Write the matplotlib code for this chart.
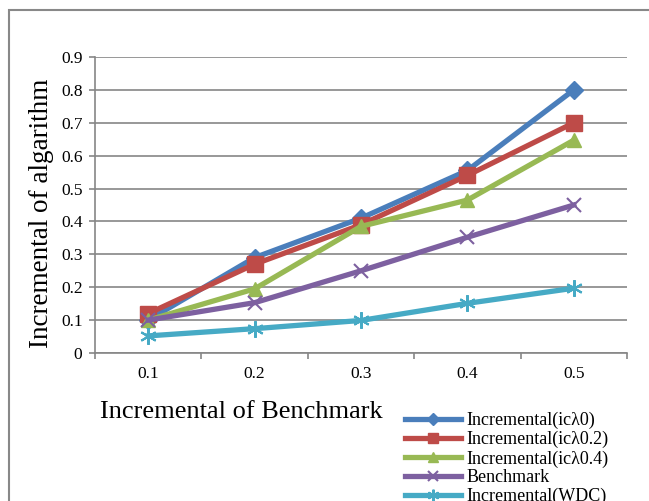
import numpy as np
import matplotlib.pyplot as plt
from matplotlib.patches import Rectangle

plt.rcParams['font.family'] = ['Liberation Serif', 'DejaVu Serif']

# data
categories = ['0.1', '0.2', '0.3', '0.4', '0.5']
ic0 = [0.10, 0.29, 0.41, 0.555, 0.80]
ic02 = [0.12, 0.27, 0.39, 0.54, 0.70]
ic04 = [0.10, 0.195, 0.385, 0.465, 0.647]
bench = [0.10, 0.153, 0.25, 0.352, 0.45]
wdc = [0.052, 0.074, 0.099, 0.151, 0.197]

names = ['Incremental(ic\u03bb0)', 'Incremental(ic\u03bb0.2)', 'Incremental(ic\u03bb0.4)',
         'Benchmark', 'Incremental(WDC)']
series = [ic0, ic02, ic04, bench, wdc]
colors = ['#4A7EBB', '#BE4B48', '#98B954', '#7D60A0', '#46AAC5']
markers = ['D', 's', '^', 'x', (6, 2, 0)]
msizes = [9, 11, 10, 10, 12]

W, H = 649, 501
fig = plt.figure(figsize=(W / 100, H / 100), dpi=100)
ax = fig.add_axes([95 / W, 1 - 353 / H, 532 / W, 296 / H])

x = np.arange(len(categories))
for i, (ys, c, m, ms, nm) in enumerate(zip(series, colors, markers, msizes, names)):
    if m == 'x' or isinstance(m, tuple):
        ax.plot(x, ys, color=c, lw=3.8, marker=m, ms=ms, mew=1.5, label=nm, zorder=3 + i)
    else:
        ax.plot(x, ys, color=c, lw=3.8, marker=m, ms=ms, mec=c, label=nm, zorder=3 + i)

ax.set_xlim(-0.5, len(categories) - 0.5)
ax.set_ylim(0, 0.9)
ax.set_yticks(np.arange(0, 0.91, 0.1))
ax.set_yticklabels(['0'] + ['%.1f' % v for v in np.arange(0.1, 0.91, 0.1)])
ax.yaxis.grid(True, color='#868686', lw=1.2)
ax.set_axisbelow(True)

ax.set_xticks(np.arange(-0.5, len(categories), 1.0))
ax.set_xticklabels([])
ax.set_xticks(x, minor=True)
ax.set_xticklabels(categories, minor=True)
ax.tick_params(axis='x', which='minor', length=0, pad=9, labelsize=12.5)
ax.tick_params(axis='x', which='major', length=4, color='#868686', width=1.2)
ax.tick_params(axis='y', length=4, color='#868686', width=1.2, labelsize=12.5, pad=5)

for s in ['top', 'right']:
    ax.spines[s].set_visible(False)
for s in ['left', 'bottom']:
    ax.spines[s].set_color('#868686')
    ax.spines[s].set_linewidth(1.2)

fig.text(42 / W, 1 - 213 / H, 'Incremental of algarithm', rotation=90,
         ha='center', va='center', fontsize=19.5)
fig.text(241 / W, 1 - 412 / H, 'Incremental of Benchmark',
         ha='center', va='center', fontsize=19)

fig.legend(loc='upper left', bbox_to_anchor=(405 / W, 1 - 412 / H), frameon=False,
           fontsize=13, handlelength=3.1, handletextpad=0.28, labelspacing=0.1,
           markerscale=0.7, borderpad=0, borderaxespad=0)

# chart border
fig.patches.append(Rectangle((9 / W, -0.1), 1.0, 1 - 10 / H + 0.1, transform=fig.transFigure,
                             fill=False, edgecolor='#888888', lw=1.5))

fig.savefig('out.png', dpi=100)
